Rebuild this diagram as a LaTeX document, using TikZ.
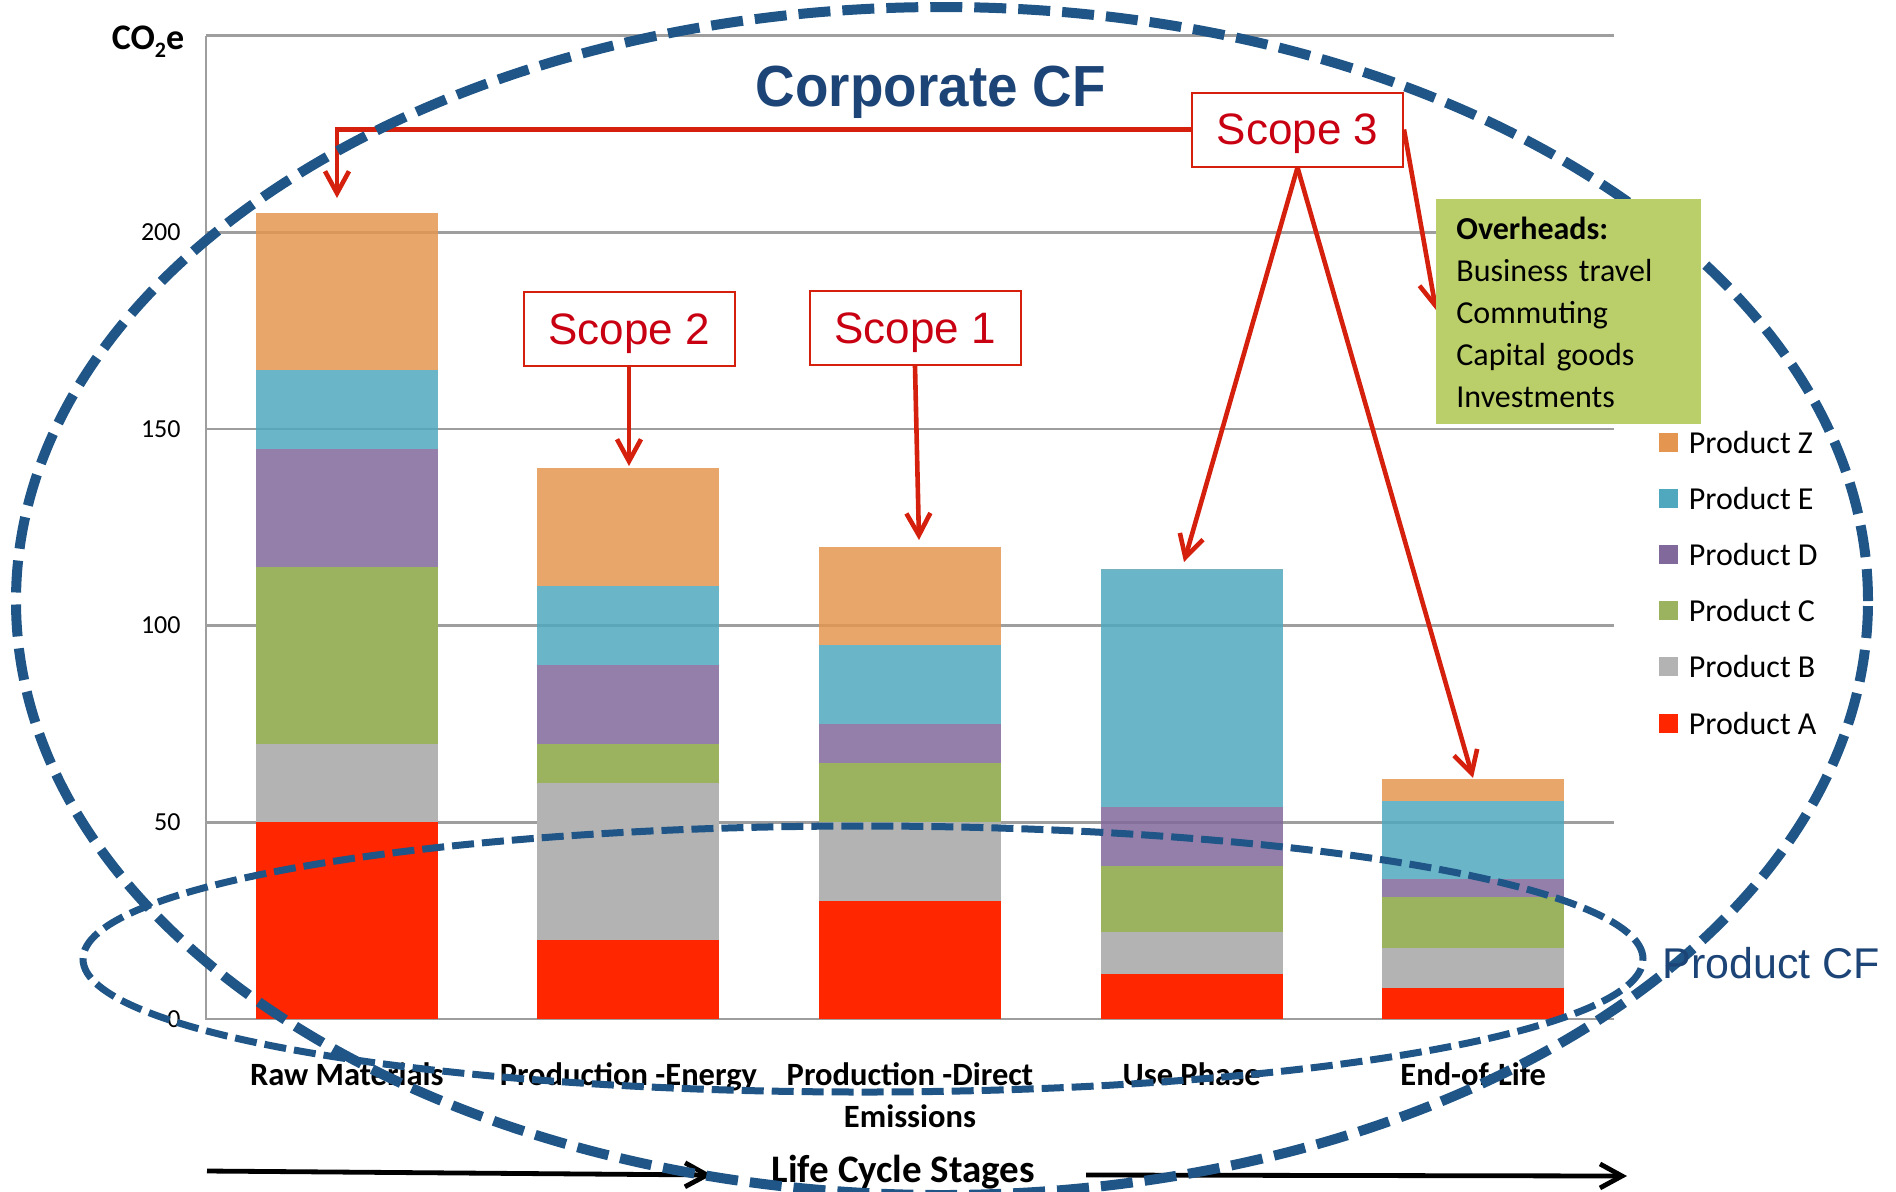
\documentclass[tikz,border=0pt]{standalone}
\usepackage{fontspec}
\setmainfont{Carlito}
\newfontfamily\arialfont{Liberation Sans}
\usetikzlibrary{arrows.meta,positioning}
\pgfdeclarelayer{fore}
\pgfsetlayers{main,fore}

\definecolor{prodA}{RGB}{255,38,0}
\definecolor{prodB}{RGB}{179,179,179}
\definecolor{prodC}{RGB}{155,178,94}
\definecolor{prodD}{RGB}{129,105,155}
\definecolor{prodE}{RGB}{80,168,190}
\definecolor{prodZ}{RGB}{228,150,80}
\definecolor{cfBlue}{RGB}{31,85,135}
\definecolor{cfText}{RGB}{28,68,118}
\definecolor{scopeRed}{RGB}{212,32,12}
\definecolor{scopeText}{RGB}{200,0,18}
\definecolor{ovhGreen}{RGB}{186,207,106}
\definecolor{gridGray}{RGB}{158,158,158}

\tikzset{
	gridline/.style={draw=gridGray, line width=1.35pt},
	seethru/.style={fill opacity=0.85},
	scopebox/.style={draw=scopeRed, line width=1pt, fill=white, minimum width=105.5pt,
		minimum height=37pt, inner sep=0pt, text=scopeText, text depth=0pt,
		font=\arialfont\fontsize{22}{26}\selectfont},
	scopearrow/.style={draw=scopeRed, line width=2.3pt, -{Straight Barb[length=11pt,width=12pt]}},
	lifearrow/.style={draw=black, line width=2.4pt, -{Straight Barb[length=11pt,width=12pt]}},
	corpcf/.style={draw=cfBlue, line width=5pt, dash pattern=on 16pt off 6pt},
	prodcf/.style={draw=cfBlue, line width=3.5pt, dash pattern=on 11pt off 4pt},
	stagelab/.style={font=\bfseries\fontsize{16.25}{21}\selectfont, anchor=north, align=center, inner sep=0pt},
	ticklab/.style={font=\fontsize{13}{15}\selectfont, anchor=east, inner sep=0pt},
	legkey/.style={minimum size=9.5pt, inner sep=0pt},
	leglab/.style={font=\fontsize{16}{19}\selectfont, anchor=west, inner sep=0pt},
	ovhbox/.style={fill=ovhGreen, align=left, text width=112.5pt, minimum height=112.5pt,
		inner xsep=10pt, inner ysep=0pt, font=\fontsize{16}{21}\selectfont}
}

\begin{document}
\begin{tikzpicture}[x=0.5pt, y=-0.5pt]
	\useasboundingbox (0,0) rectangle (1896,1191);

	% chart: one unit of x is one stage, one unit of y is one CO2e unit
	\begin{scope}[shift={(206,1019)}, x=140.8pt, y=1.967pt]
		\foreach \v in {50,100,...,250}
			\draw[gridline] (0,\v) -- (5,\v);
		\draw[gridline] (0,250) -- (0,0) -- (5,0);
		\foreach \k/\a/\b/\c/\d/\e/\z in {0/50/70/115/145/165/205, 1/20/60/70/90/110/140,
				2/30/50/65/75/95/120, 3/11.5/22/39/54/114.3/114.3, 4/8/18/31/35.5/55.5/61} {
			\fill[prodA] (\k+0.177,0) rectangle (\k+0.823,\a);
			\fill[prodB] (\k+0.177,\a) rectangle (\k+0.823,\b);
			\fill[prodC] (\k+0.177,\b) rectangle (\k+0.823,\c);
			\fill[prodD, seethru] (\k+0.177,\c) rectangle (\k+0.823,\d);
			\fill[prodE, seethru] (\k+0.177,\d) rectangle (\k+0.823,\e);
			\fill[prodZ, seethru] (\k+0.177,\e) rectangle (\k+0.823,\z);
		}
		\foreach \v in {0,50,...,200}
			\node[ticklab] (tick\v) at (-0.089,\v) {\v};
	\end{scope}

	\node[font=\bfseries\fontsize{18}{20}\selectfont, anchor=base, inner sep=0pt] (unit) at (148,49)
		{CO\raisebox{-4pt}{\fontsize{11}{11}\selectfont 2}e};

	\node[stagelab] (rm) at (346.8,1062) {Raw Materials};
	\node[stagelab] (pe) at (628.4,1062) {Production -Energy};
	\node[stagelab] (pd) at (910,1062) {Production -Direct\\Emissions};
	\node[stagelab] (up) at (1191.6,1062) {Use Phase};
	\node[stagelab] (el) at (1473.2,1062) {End-of-Life};

	\node[font=\bfseries\fontsize{19.5}{23}\selectfont, anchor=base, inner sep=0pt] (lcs) at (903.5,1182) {Life Cycle Stages};
	\coordinate (lc0) at (207,1171);
	\coordinate (lc1) at (712,1175);
	\coordinate (lc2) at (1086,1175);
	\coordinate (lc3) at (1627,1176);
	\draw[lifearrow] (lc0) -- (lc1);
	\draw[lifearrow] (lc2) -- (lc3);

	% legend
	\foreach \n/\c [count=\i from 0] in {Z/prodZ, E/prodE, D/prodD, C/prodC, B/prodB, A/prodA} {
		\node[legkey, fill=\c] (key\n) at (1668.5,442+56.2*\i) {};
		\node[leglab, right=5pt of key\n] (lab\n) {Product \n};
	}

	\node[font=\arialfont\bfseries\fontsize{29}{34}\selectfont, text=cfText, anchor=base, inner sep=0pt] (corp)
		at (931,106.7) {\scalebox{0.945}[1]{Corporate CF}};

	% scopes
	\begin{pgfonlayer}{fore}
		\node[scopebox] (s2) at (629,329) {Scope 2};
		\node[scopebox] (s1) at (915,328) {Scope 1};
		\node[scopebox] (s3) at (1297.5,129.5) {Scope 3};
		\node[ovhbox, anchor=north west] (ovh) at (1436,199) {\textbf{Overheads:}\\Business travel\\Commuting\\Capital goods\\Investments};
	\end{pgfonlayer}

	\coordinate (tipRM) at (337,198);
	\coordinate (tipPE) at (629,466);
	\coordinate (tipPD) at (919,540);
	\coordinate (tipUP) at (1184,562);
	\coordinate (tipEL) at (1473,778);
	\coordinate (tipOH) at (1436,310);
	\draw[scopearrow] (s2.south) -- (tipPE);
	\draw[scopearrow] (s1.south) -- (tipPD);
	\draw[scopearrow] (s3.west) -| (tipRM);
	\draw[scopearrow] (s3.south) -- (tipUP);
	\draw[scopearrow] (s3.south) -- (tipEL);
	\draw[scopearrow] (s3.east) -- (tipOH);

	% the two footprints
	\draw[corpcf] (942,601) ellipse [x radius=463pt, y radius=297pt];
	\draw[prodcf] (863,959) ellipse [x radius=390pt, y radius=66.5pt];
	\node[font=\arialfont\fontsize{21.5}{25}\selectfont, text=cfText, anchor=base west, inner sep=0pt] (pcf)
		at (1662,978) {Product CF};
\end{tikzpicture}
\end{document}
